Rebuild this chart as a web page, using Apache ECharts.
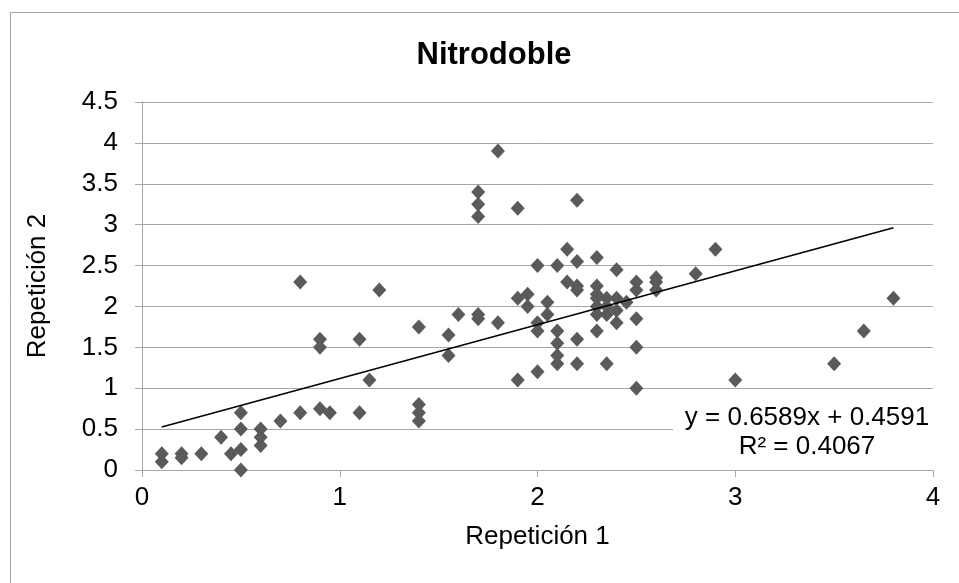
<!DOCTYPE html>
<html>
<head>
<meta charset="utf-8">
<title>Nitrodoble</title>
<script src="https://cdn.jsdelivr.net/npm/echarts@6/dist/echarts.min.js"></script>
<style>
  html, body { margin: 0; padding: 0; background: #fff; }
  #chart { width: 959px; height: 583px; }
</style>
</head>
<body>
<div id="chart"></div>
<script>
// Repetición 1 (x) / Repetición 2 (y)
let rep1 = [
  0.1, 0.1, 0.2, 0.2, 0.3, 0.4, 0.45, 0.5, 0.5, 0.5, 0.5, 0.6, 0.6, 0.6, 0.7,
  0.8, 0.9, 0.95, 1.1, 1.15, 0.8, 1.2, 0.9, 0.9, 1.1, 1.4, 1.55, 1.55, 1.6,
  1.7, 1.7, 1.8, 1.4, 1.4, 1.4, 1.8, 1.7, 1.7, 1.7, 1.9, 2.2, 2.15, 2.2, 2.3,
  2.0, 2.1, 2.4, 2.15, 2.2, 2.2, 2.5, 2.5, 2.6, 2.6, 2.6, 2.3, 2.3, 2.35,
  1.9, 1.95, 1.95, 2.05, 2.05, 2.5, 2.0, 2.0, 2.1, 2.1, 2.1, 2.1, 2.2, 2.2,
  2.3, 2.35, 2.5, 2.5, 1.9, 2.0, 2.3, 2.3, 2.35, 2.4, 2.4, 2.45, 2.3, 2.4,
  2.35, 2.9, 2.8, 3.0, 3.5, 3.65, 3.8
];
let rep2 = [
  0.2, 0.1, 0.2, 0.15, 0.2, 0.4, 0.2, 0.7, 0.5, 0.25, 0, 0.5, 0.4, 0.3, 0.6,
  0.7, 0.75, 0.7, 0.7, 1.1, 2.3, 2.2, 1.6, 1.5, 1.6, 1.75, 1.65, 1.4, 1.9,
  1.9, 1.85, 1.8, 0.8, 0.7, 0.6, 3.9, 3.4, 3.25, 3.1, 3.2, 3.3, 2.7, 2.55, 2.6,
  2.5, 2.5, 2.45, 2.3, 2.25, 2.2, 2.3, 2.2, 2.35, 2.3, 2.2, 2.25, 2.15, 2.1,
  2.1, 2.15, 2.0, 2.05, 1.9, 1.85, 1.8, 1.7, 1.7, 1.55, 1.4, 1.3, 1.6, 1.3,
  1.7, 1.3, 1.5, 1.0, 1.1, 1.2, 2.0, 1.9, 1.9, 1.8, 1.95, 2.05, 2.1, 2.1,
  2.0, 2.7, 2.4, 1.1, 1.3, 1.7, 2.1
];

// linear trendline shown on the chart
let slope = 0.6589;
let intercept = 0.4591;
let trendX = [0.1, 3.8];
let equationText = "y = 0.6589x + 0.4591";
let r2Text = "R² = 0.4067";

let dom = document.getElementById("chart");
let myChart = echarts.init(dom);

let font = "Liberation Sans, Arial, sans-serif";
let gray = "#a6a6a6";

let points = rep1.map((x, i) => [x, rep2[i]]);
let trend = trendX.map(x => [x, slope * x + intercept]);

let option = {
  backgroundColor: "#fff",
  animation: false,
  title: {
    text: "Nitrodoble",
    left: 489,
    top: 35,
    textAlign: "center",
    textStyle: {
      fontFamily: font,
      fontSize: 31,
      fontWeight: "bold",
      color: "#000"
    }
  },
  grid: {
    left: 142,
    right: 26,
    top: 102,
    bottom: 113
  },
  xAxis: {
    type: "value",
    min: 0,
    max: 4,
    interval: 1,
    name: "Repetición 1",
    nameLocation: "middle",
    nameGap: 54,
    nameTextStyle: { fontFamily: font, fontSize: 26, color: "#000" },
    axisLine: { show: true, lineStyle: { color: gray } },
    axisTick: { show: true, length: 7, lineStyle: { color: gray } },
    axisLabel: { fontFamily: font, fontSize: 26, color: "#000", margin: 15 },
    splitLine: { show: false }
  },
  yAxis: {
    type: "value",
    min: 0,
    max: 4.5,
    interval: 0.5,
    name: "Repetición 2",
    nameLocation: "middle",
    nameGap: 91,
    nameRotate: 90,
    nameTextStyle: { fontFamily: font, fontSize: 26, color: "#000" },
    axisLine: { show: true, lineStyle: { color: gray } },
    axisTick: { show: true, length: 7, lineStyle: { color: gray } },
    axisLabel: { fontFamily: font, fontSize: 26, color: "#000", margin: 24 },
    splitLine: { show: true, lineStyle: { color: gray } }
  },
  series: [
    {
      name: "Nitrodoble",
      type: "scatter",
      symbol: "diamond",
      symbolSize: [14, 15],
      itemStyle: { color: "#5a5a5a", opacity: 1 },
      data: points,
      z: 3
    },
    {
      name: "Lineal",
      type: "line",
      data: trend,
      symbol: "none",
      lineStyle: { color: "#000", width: 1.5 },
      z: 4
    }
  ],
  graphic: [
    {
      type: "rect",
      silent: true,
      shape: { x: 10.5, y: 12.5, width: 960, height: 600 },
      style: { fill: "none", stroke: gray, lineWidth: 1 }
    },
    {
      // white box behind the trendline label
      type: "rect",
      silent: true,
      z: 90,
      shape: { x: 673, y: 403, width: 264, height: 60 },
      style: { fill: "#fff" }
    },
    {
      type: "text",
      z: 100,
      x: 807,
      y: 418,
      style: {
        text: equationText,
        align: "center",
        verticalAlign: "middle",
        font: "26px " + font,
        fill: "#000"
      }
    },
    {
      type: "text",
      z: 100,
      x: 807,
      y: 447,
      style: {
        text: r2Text,
        align: "center",
        verticalAlign: "middle",
        font: "26px " + font,
        fill: "#000"
      }
    }
  ]
};

myChart.setOption(option, true);
</script>
</body>
</html>
